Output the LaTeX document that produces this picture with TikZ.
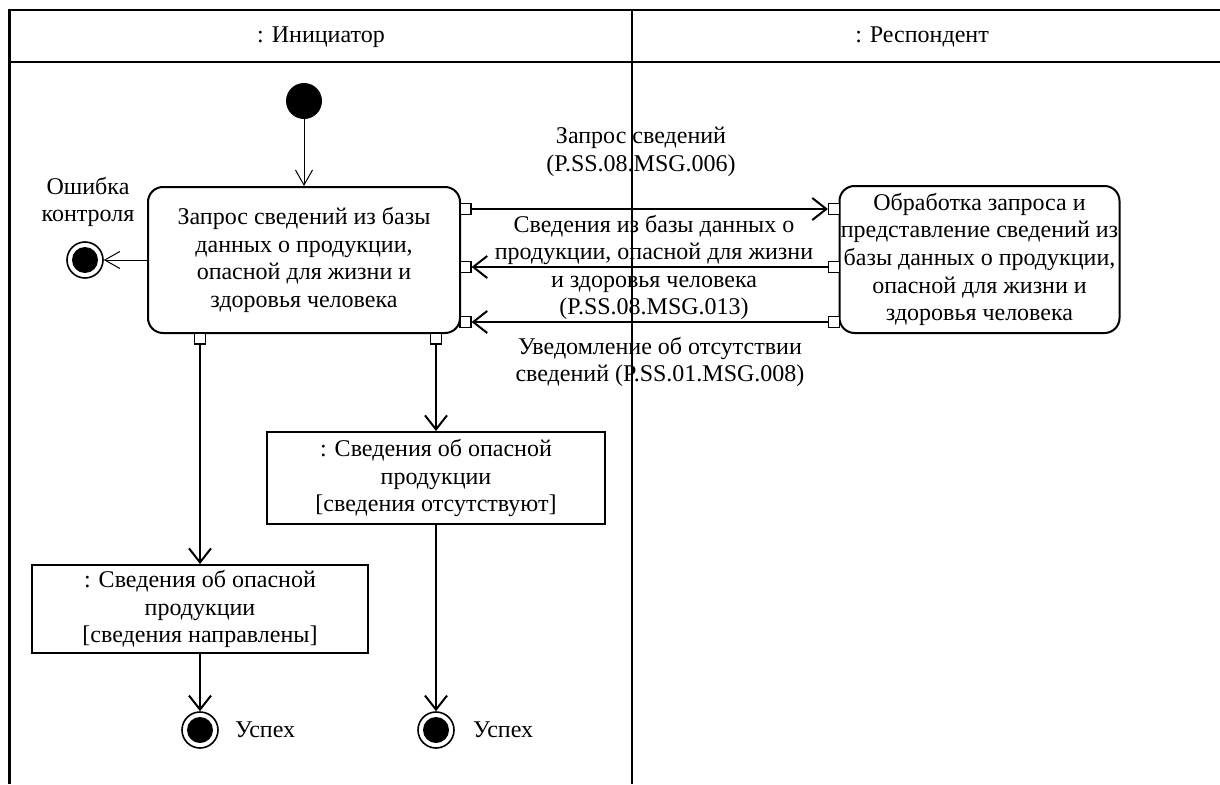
\documentclass[tikz,border=0pt]{standalone}
\usepackage{fontspec}
\setmainfont{Liberation Serif}
\usetikzlibrary{arrows.meta}
\begin{document}
\begin{tikzpicture}[x=1pt,y=-1pt,
  font=\fontsize{24}{27.6}\selectfont,
  frameline/.style={line width=2.5pt},
  action/.style={draw, line width=2pt, rounded corners=15pt, align=center, inner sep=0pt},
  objnode/.style={draw, line width=2pt, align=center, inner sep=0pt},
  pinbox/.style={draw, line width=1.2pt, fill=white, minimum size=11pt, inner sep=0pt},
  flow/.style={line width=2pt, -{Straight Barb[length=14pt,width=22pt,line width=2pt]}},
  thinflow/.style={line width=1pt, -{Straight Barb[length=15pt,width=17pt,line width=1pt]}},
  initnode/.style={circle, fill=black, minimum size=36pt, inner sep=0pt},
  finalnode/.style={circle, draw, fill=white, line width=1.6pt, minimum size=36pt, inner sep=0pt,
    path picture={\fill[black] (path picture bounding box.center) circle (13pt);}},
  lbl/.style={align=center, inner sep=0pt}]
\useasboundingbox (0,0) rectangle (1220,784);
% frame
\draw[frameline] (1220,10) -- (9.5,10) -- (9.5,784);
\draw[frameline] (9.5,62) -- (1220,62);
\draw[frameline] (632,10) -- (632,784);
\node[lbl] (h1) at (321,37) {: Инициатор};
\node[lbl] (h2) at (922,37) {: Респондент};
% nodes
\node[initnode] (init) at (304,101) {};
\node[action, minimum width=312pt, minimum height=146pt] (A) at (304,260)
  {Запрос сведений из базы\\данных о продукции,\\опасной для жизни и\\здоровья человека};
\node[action, minimum width=280pt, minimum height=147pt] (B) at (979.5,259.5)
  {Обработка запроса и\\представление сведений из\\базы данных о продукции,\\опасной для жизни и\\здоровья человека};
\node[pinbox] (pA1) at (465.5,209) {};
\node[pinbox] (pA2) at (465.5,267) {};
\node[pinbox] (pA3) at (465.5,322) {};
\node[pinbox] (pB1) at (834,209) {};
\node[pinbox] (pB2) at (834,267) {};
\node[pinbox] (pB3) at (834,322) {};
\node[pinbox] (pAb1) at (200,338.5) {};
\node[pinbox] (pAb2) at (436,338.5) {};
\node[objnode, minimum width=338pt, minimum height=92pt] (O1) at (436,478)
  {: Сведения об опасной\\продукции\\{[}сведения отсутствуют{]}};
\node[objnode, minimum width=336pt, minimum height=88pt] (O2) at (200,609)
  {: Сведения об опасной\\продукции\\{[}сведения направлены{]}};
\node[finalnode] (E) at (85,260) {};
\node[finalnode] (F1) at (200,730) {};
\node[finalnode] (F2) at (436,730) {};
% labels
\node[lbl] (Elbl) at (88,202) {Ошибка\\контроля};
\node[lbl, anchor=west] (S1) at (235,730) {Успех};
\node[lbl, anchor=west] (S2) at (473,730) {Успех};
\node[lbl] (L1) at (641,152) {Запрос сведений\\(P.SS.08.MSG.006)};
\node[lbl] (L2) at (654,267.5) {Сведения из базы данных о\\продукции, опасной для жизни\\и здоровья человека\\(P.SS.08.MSG.013)};
\node[lbl] (L3) at (660,362) {Уведомление об отсутствии\\сведений (P.SS.01.MSG.008)};
% edges
\draw[thinflow] (init) -- (A);
\draw[thinflow] (A) -- (E);
\draw[flow] (pA1) -- (pB1);
\draw[flow] (pB2) -- (pA2);
\draw[flow] (pB3) -- (pA3);
\draw[flow] (pAb1) -- (O2);
\draw[flow] (pAb2) -- (O1);
\draw[flow] (O1) -- (F2);
\draw[flow] (O2) -- (F1);
\end{tikzpicture}
\end{document}
